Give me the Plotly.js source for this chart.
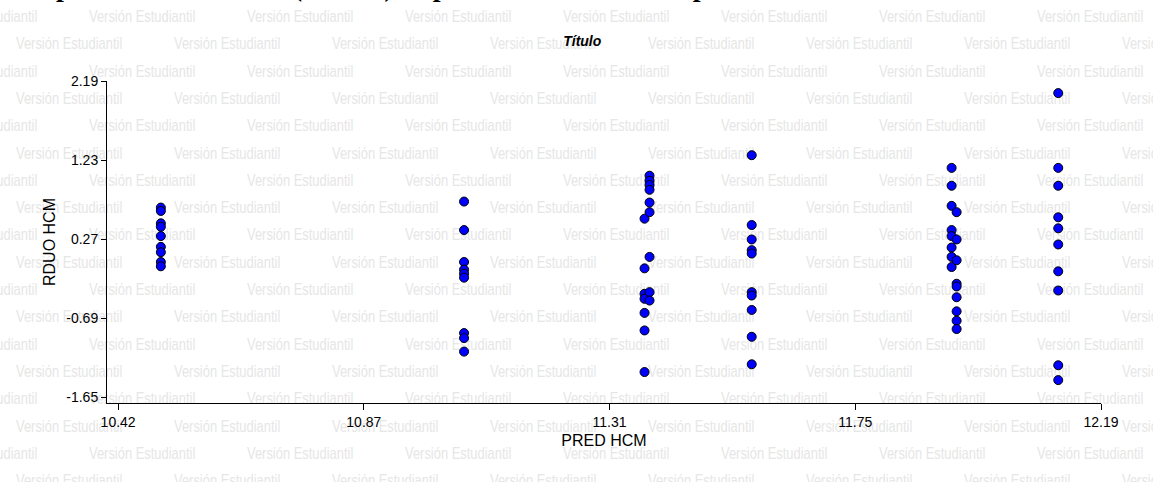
<!DOCTYPE html>
<html><head><meta charset="utf-8">
<script src="https://cdn.plot.ly/plotly-3.0.1.min.js"></script>
<style>
body{margin:0;background:#fff;}
#wrap{position:relative;width:1153px;height:482px;overflow:hidden;}
#wm{position:absolute;left:0;top:0;width:1153px;height:482px;z-index:0;}
#wm span{position:absolute;font-family:"Liberation Sans",Arial,sans-serif;font-size:17px;color:#e6e6e6;white-space:nowrap;line-height:17px;transform:scaleX(0.76);transform-origin:0 0;}
#plot{position:absolute;left:0;top:0;z-index:1;}
</style></head><body>
<div id="wrap"><div id="wm"></div><div id="plot"></div></div>
<script>
var groupX = [10.497, 11.043, 11.368, 11.377, 11.561, 11.921, 11.930, 12.113];
var groupY = [
  [0.653,0.612,0.462,0.420,0.307,0.176,0.111,-0.008,-0.060],
  [0.726,0.380,-0.008,-0.10,-0.15,-0.198,-0.871,-0.932,-1.096],
  [0.518,-0.085,-0.394,-0.455,-0.626,-0.839,-1.344],
  [1.040,0.979,0.927,0.869,0.714,0.597,0.054,-0.374,-0.476],
  [1.289,0.441,0.266,0.136,0.095,-0.374,-0.415,-0.590,-0.916,-1.250],
  [1.135,0.918,0.674,0.380,0.307,0.168,0.054,-0.069],
  [0.597,0.266,0.013,-0.272,-0.305,-0.436,-0.607,-0.721,-0.822],
  [2.043,1.135,0.918,0.535,0.401,0.205,-0.121,-0.354,-1.262,-1.442]
];
var xTickVals = [10.42, 10.8625, 11.305, 11.7475, 12.19];
var xTickText = ["10.42","10.87","11.31","11.75","12.19"];
var yTickVals = [2.19, 1.23, 0.27, -0.69, -1.65];
var yTickText = ["2.19","1.23","0.27","-0.69","-1.65"];
var watermark = "Versión Estudiantil";

(function(){
  var wm = document.getElementById('wm');
  for (var r = 0; r < 18; r++) {
    var rowTop = 8 + r * 27.3;
    var off = (r % 2 === 0) ? 89 : 16;
    for (var px = off - 158*2; px < 1153; px += 158) {
      var s = document.createElement('span');
      s.textContent = watermark;
      s.style.left = px + 'px'; s.style.top = rowTop + 'px';
      wm.appendChild(s);
    }
  }
})();

var xs = [], ys = [];
groupX.forEach(function(gx, i){ groupY[i].forEach(function(v){ xs.push(gx); ys.push(v); }); });

var trace = {x: xs, y: ys, type:'scatter', mode:'markers',
  marker:{color:'#0000ff', size:9, line:{color:'#000', width:1}}, cliponaxis:false, hoverinfo:'none'};

var axFont = {family:'Liberation Sans, Arial, sans-serif', size:14, color:'#000'};
var layout = {
  width:1153, height:482,
  margin:{l:107, r:52, t:81, b:79},
  paper_bgcolor:'rgba(0,0,0,0)', plot_bgcolor:'rgba(0,0,0,0)',
  showlegend:false,
  title:{text:'<b><i>Título</i></b>', x:0.505, xanchor:'center', y:0.915, yanchor:'middle',
    font:{family:'Liberation Sans, Arial, sans-serif', size:14, color:'#000'}},
  xaxis:{range:[10.40, 12.19], showgrid:false, zeroline:false, showline:true, linecolor:'#000', linewidth:1,
    ticks:'outside', ticklen:6, tickcolor:'#000', tickvals:xTickVals, ticktext:xTickText, tickfont:axFont,
    title:{text:'PRED HCM', font:{family:'Liberation Sans, Arial, sans-serif', size:16, color:'#000'}, standoff:6}},
  yaxis:{range:[-1.72, 2.19], showgrid:false, zeroline:false, showline:true, linecolor:'#000', linewidth:1,
    ticks:'outside', ticklen:5, tickcolor:'#000', tickvals:yTickVals, ticktext:yTickText, tickfont:axFont,
    title:{text:'RDUO HCM', font:{family:'Liberation Sans, Arial, sans-serif', size:16, color:'#000'}, standoff:6}},
  annotations:[{text:'<b>Dispersión de residuos (RDUO) vs predichos del modelo p</b>',
    xref:'paper', yref:'paper', x:-0.093, xanchor:'left', y:1, yanchor:'bottom', yshift:77, showarrow:false,
    font:{family:'Liberation Serif, Times New Roman, serif', size:28, color:'#000'}}]
};
Plotly.newPlot('plot', [trace], layout, {staticPlot:true});
</script></body></html>
